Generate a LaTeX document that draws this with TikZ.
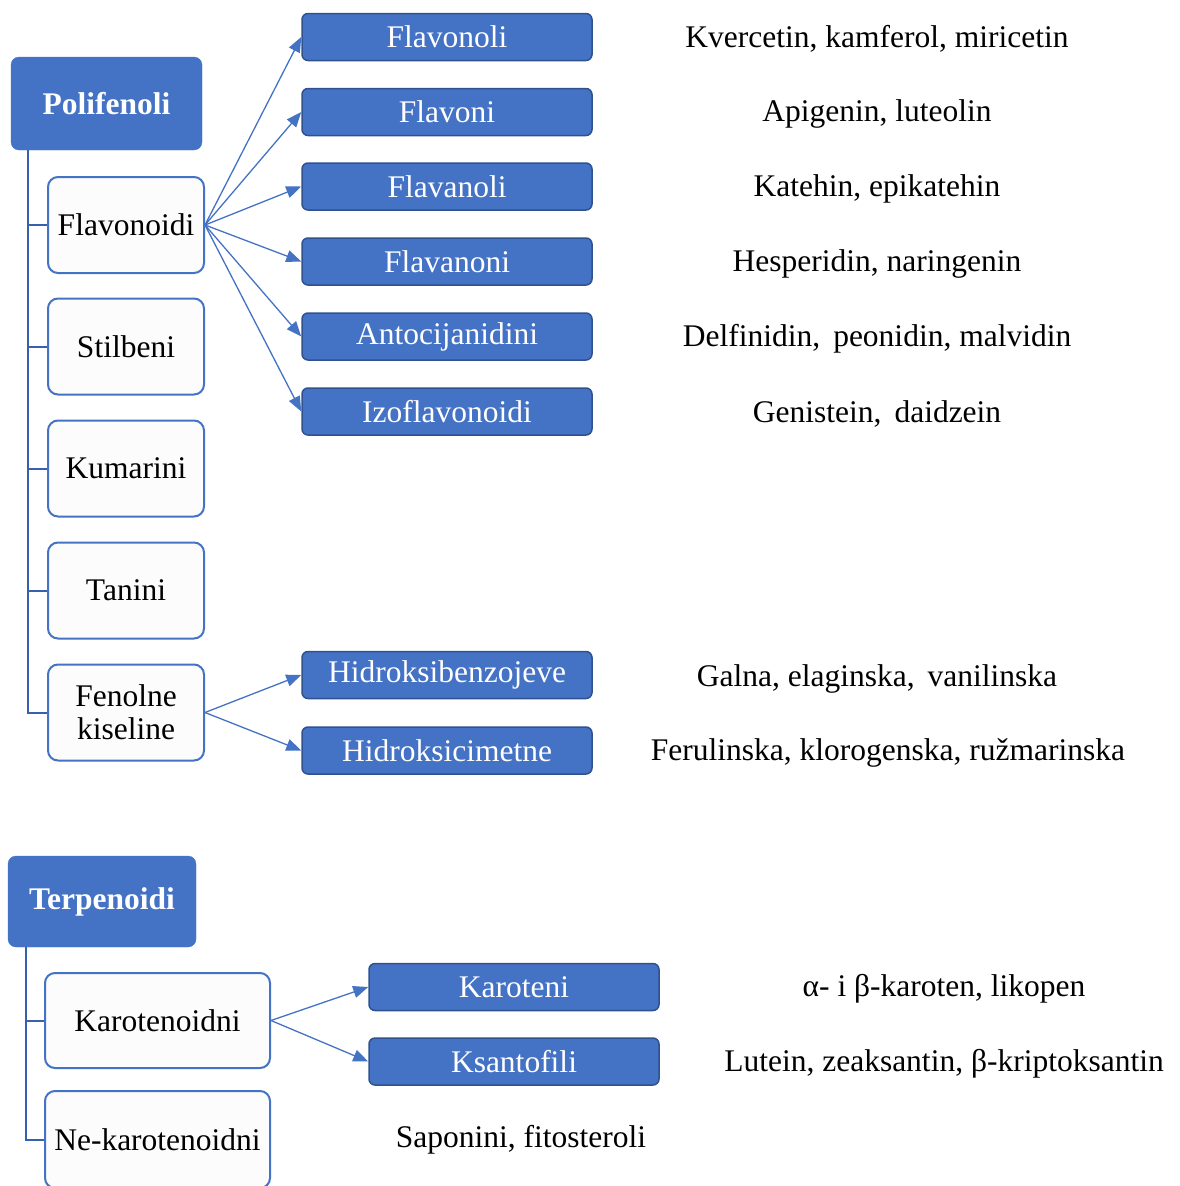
\documentclass[tikz,border=0pt]{standalone}
\usepackage{fontspec}
\setmainfont{Liberation Serif}
\usetikzlibrary{arrows.meta}

\definecolor{boxblue}{RGB}{68,114,196}
\definecolor{edgeblue}{RGB}{47,82,143}
\definecolor{treeblue}{RGB}{56,96,172}
\newcommand{\txtsize}{\fontsize{31.5}{33}\selectfont}

\tikzset{every picture/.style={line width=0.35pt}}
\tikzset{
  grp/.style={fill=boxblue, draw=boxblue, rounded corners=8pt, text=white,
    font=\txtsize\bfseries, inner sep=0pt},
  sub/.style={fill=black!1, draw=boxblue, line width=2pt, rounded corners=10pt,
    minimum width=156pt, minimum height=96pt, font=\txtsize, align=center, inner sep=0pt},
  kind/.style={fill=boxblue, draw=edgeblue, line width=1.5pt, rounded corners=6pt,
    minimum width=290pt, minimum height=47pt, text=white, font=\txtsize, inner sep=0pt},
  ex/.style={font=\txtsize, inner sep=0pt, yshift=-2pt},
  link/.style={boxblue, line width=1.3pt, -{Triangle[length=15pt,width=12pt]}},
  tree/.style={treeblue, line width=2pt}
}

\begin{document}
\begin{tikzpicture}[x=1pt,y=1pt,yscale=-1]
  \useasboundingbox (0,0) rectangle (1180,1186);

  % Polifenoli
  \node (pol) [grp, minimum width=191pt, minimum height=93pt] at (106.5,103.5) {Polifenoli};

  \node (flv) [sub] at (126,225)   {Flavonoidi};
  \node (sti) [sub] at (126,346.5) {Stilbeni};
  \node (kum) [sub] at (126,468.5) {Kumarini};
  \node (tan) [sub] at (126,590.5) {Tanini};
  \node (fen) [sub] at (126,712.5) {Fenolne\\kiseline};

  \node (fnl) [kind] at (447,37)    {Flavonoli};
  \node (fni) [kind] at (447,112)   {Flavoni};
  \node (fal) [kind] at (447,186.5) {Flavanoli};
  \node (fan) [kind] at (447,261.5) {Flavanoni};
  \node (ant) [kind] at (447,336.5) {Antocijanidini};
  \node (izo) [kind] at (447,411.5) {Izoflavonoidi};
  \node (hbz) [kind] at (447,675)   {Hidroksibenzojeve};
  \node (hcm) [kind] at (447,750.5) {Hidroksicimetne};

  \node (exfnl) [ex] at (877,37)    {Kvercetin, kamferol, miricetin};
  \node (exfni) [ex] at (877,112)   {Apigenin, luteolin};
  \node (exfal) [ex] at (877,186.5) {Katehin, epikatehin};
  \node (exfan) [ex] at (877,261.5) {Hesperidin, naringenin};
  \node (exant) [ex] at (877,336.5) {Delfinidin,\, peonidin, malvidin};
  \node (exizo) [ex] at (877,411.5) {Genistein,\, daidzein};
  \node (exhbz) [ex] at (877,677)   {Galna, elaginska,\, vanilinska};
  \node (exhcm) [ex] at (888,751)   {Ferulinska, klorogenska, ružmarinska};

  \coordinate (pspine) at ([xshift=17pt]pol.south west);
  \draw [tree] (pspine) |- (fen.west);
  \foreach \n in {flv,sti,kum,tan}
    \draw [tree] (\n.west -| pspine) -- (\n.west);

  \foreach \n in {fnl,fni,fal,fan,ant,izo}
    \draw [link] (flv.east) -- (\n.west);
  \draw [link] (fen.east) -- (hbz.west);
  \draw [link] (fen.east) -- (hcm.west);

  % Terpenoidi
  \node (ter) [grp, minimum width=188pt, minimum height=91pt] at (102,901.5) {Terpenoidi};

  \node (kar) [sub, minimum width=225pt, minimum height=95pt] at (157.5,1020.5) {Karotenoidni};
  \node (nek) [sub, minimum width=225pt, minimum height=97pt] at (157.5,1139.5) {Ne-karotenoidni};

  \node (krt) [kind] at (514,987)    {Karoteni};
  \node (ksf) [kind] at (514,1061.5) {Ksantofili};

  \node (exkrt) [ex] at (944,987)  {α- i β-karoten, likopen};
  \node (exksf) [ex] at (944,1062) {Lutein, zeaksantin, β-kriptoksantin};
  \node (exnek) [ex] at (521,1138) {Saponini, fitosteroli};

  \coordinate (tspine) at ([xshift=18pt]ter.south west);
  \draw [tree] (tspine) |- (nek.west);
  \draw [tree] (kar.west -| tspine) -- (kar.west);

  \draw [link] (kar.east) -- (krt.west);
  \draw [link] (kar.east) -- (ksf.west);

\end{tikzpicture}
\end{document}
